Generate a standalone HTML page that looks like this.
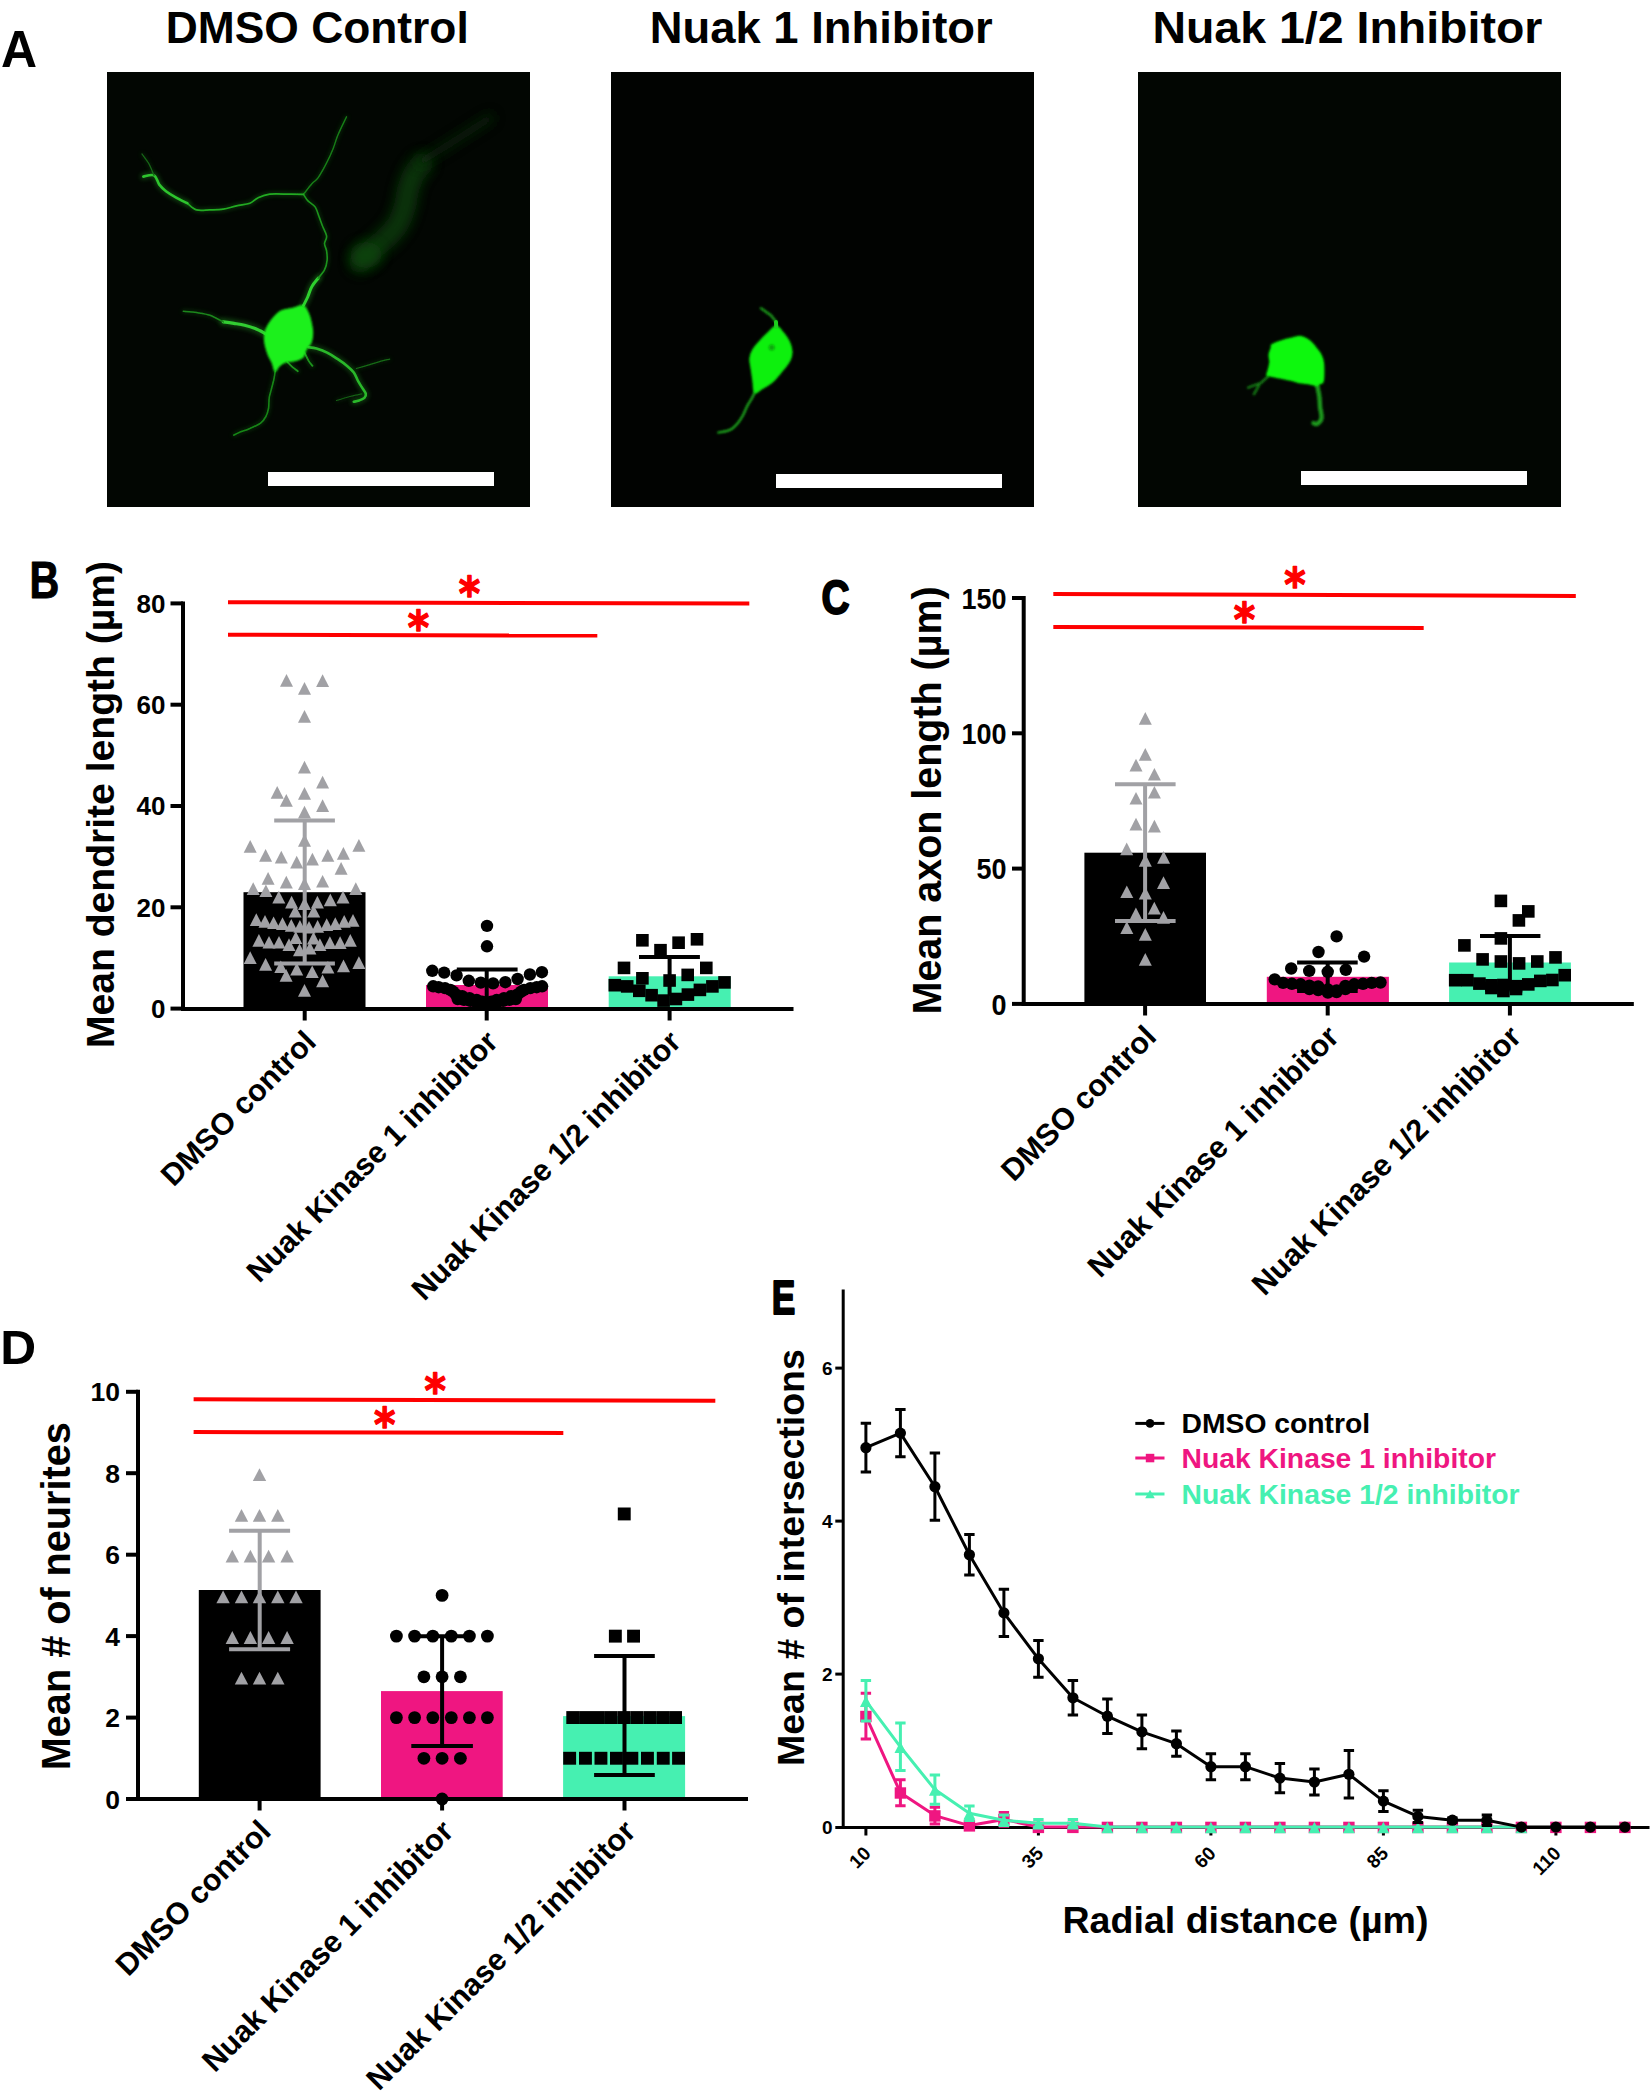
<!DOCTYPE html><html><head><meta charset="utf-8"><title>Figure</title>
<style>html,body{margin:0;padding:0;background:#fff;}svg{display:block;}text{font-family:'Liberation Sans', Arial, sans-serif;}</style></head><body>
<svg width="1652" height="2099" viewBox="0 0 1652 2099">
<rect width="1652" height="2099" fill="#fff"/>
<defs>
<filter id="b05" filterUnits="userSpaceOnUse" x="0" y="0" width="1652" height="600"><feGaussianBlur stdDeviation="0.5"/></filter>
<filter id="b1" filterUnits="userSpaceOnUse" x="0" y="0" width="1652" height="600"><feGaussianBlur stdDeviation="0.9"/></filter>
<filter id="b2" filterUnits="userSpaceOnUse" x="0" y="0" width="1652" height="600"><feGaussianBlur stdDeviation="2"/></filter>
<filter id="b6" filterUnits="userSpaceOnUse" x="0" y="0" width="1652" height="600"><feGaussianBlur stdDeviation="6"/></filter>
</defs>
<text x="0" y="0" font-size="51.5" font-weight="bold" transform="translate(1.0 67.2) scale(0.97 1)">A</text>
<text x="317.3" y="42.5" font-size="44.7" text-anchor="middle" fill="#000" font-weight="bold" textLength="303" lengthAdjust="spacingAndGlyphs">DMSO Control</text>
<text x="821.2" y="42.5" font-size="44.7" text-anchor="middle" fill="#000" font-weight="bold" textLength="343" lengthAdjust="spacingAndGlyphs">Nuak 1 Inhibitor</text>
<text x="1347.4" y="42.5" font-size="44.7" text-anchor="middle" fill="#000" font-weight="bold" textLength="390" lengthAdjust="spacingAndGlyphs">Nuak 1/2 Inhibitor</text>
<rect x="107" y="72" width="423" height="435" fill="#020602"/>
<path d="M360.0 262.0C362.0 260.0 367.7 254.0 372.0 250.0C376.3 246.0 381.7 242.3 386.0 238.0C390.3 233.7 394.8 229.3 398.0 224.0C401.2 218.7 403.3 211.7 405.0 206.0C406.7 200.3 406.5 195.3 408.0 190.0C409.5 184.7 411.7 178.3 414.0 174.0C416.3 169.7 420.7 165.7 422.0 164.0" stroke="#0b420b" stroke-width="22" stroke-linecap="round" stroke-linejoin="round" fill="none" filter="url(#b6)" opacity="0.75"/>
<ellipse cx="366" cy="255" rx="16" ry="13" fill="#0c480c" filter="url(#b6)" opacity="0.7"/>
<path d="M420.0 162.0C423.3 160.0 433.0 154.3 440.0 150.0C447.0 145.7 453.7 141.3 462.0 136.0C470.3 130.7 485.3 121.0 490.0 118.0" stroke="#072807" stroke-width="9" stroke-linecap="round" fill="none" filter="url(#b6)" opacity="0.8"/>
<g fill="none" stroke-linecap="round" stroke-linejoin="round">
<path d="M303.5 305.4C304.2 304.0 306.3 300.1 307.7 297.0C309.1 293.9 310.1 289.6 311.9 286.5C313.6 283.4 317.1 279.6 318.2 278.2" stroke="#2fd02f" stroke-width="7.2" opacity="0.28" filter="url(#b2)"/>
<path d="M318.2 278.2C319.2 276.8 323.0 272.8 324.5 269.8C326.0 266.8 326.8 263.4 327.1 260.3C327.5 257.2 327.0 253.7 326.6 250.9C326.2 248.1 324.5 246.1 324.5 243.6C324.5 241.1 327.0 239.2 326.6 236.2C326.2 233.2 323.6 228.9 322.4 225.8C321.2 222.7 320.5 220.6 319.3 217.4C318.1 214.2 317.0 209.7 315.1 206.9C313.2 204.1 309.6 202.7 307.7 200.6C305.8 198.5 304.2 195.4 303.5 194.3" stroke="#1c941c" stroke-width="3.8" opacity="0.28" filter="url(#b2)"/>
<path d="M303.5 194.3C304.9 192.6 309.4 186.6 311.9 183.8C314.3 181.0 315.8 181.1 318.2 177.6C320.6 174.1 324.2 167.6 326.6 162.9C329.1 158.2 331.0 154.0 332.9 149.3C334.8 144.6 335.8 140.0 338.1 134.6C340.4 129.2 345.1 119.8 346.5 116.8" stroke="#187e18" stroke-width="3.4" opacity="0.28" filter="url(#b2)"/>
<path d="M303.5 194.3C301.2 194.3 295.4 194.2 289.8 194.2C284.2 194.2 275.1 193.6 269.8 194.2C264.5 194.8 261.1 196.4 257.8 197.9C254.5 199.4 253.5 201.9 249.9 203.2C246.3 204.5 240.9 204.9 236.5 205.9C232.1 206.9 227.6 208.5 223.2 209.2C218.8 209.9 214.3 209.8 209.9 209.9C205.5 210.0 200.4 211.0 196.6 209.9C192.8 208.8 188.9 204.3 187.3 203.2" stroke="#22aa22" stroke-width="4.1" opacity="0.28" filter="url(#b2)"/>
<path d="M187.3 203.2C185.5 202.3 180.2 199.9 176.6 197.9C173.0 195.9 168.9 193.4 166.0 191.2C163.1 189.0 161.3 187.2 159.3 184.6C157.3 181.9 156.7 176.6 154.0 175.3C151.3 174.0 145.1 176.4 143.3 176.6" stroke="#2dc42d" stroke-width="6.2" opacity="0.28" filter="url(#b2)"/>
<path d="M154.0 175.3C153.1 173.3 150.6 166.9 148.6 163.3C146.6 159.8 143.1 155.6 142.0 154.0" stroke="#156815" stroke-width="3.1" opacity="0.28" filter="url(#b2)"/>
<path d="M265.9 333.9C264.1 333.0 258.8 330.0 255.2 328.6C251.6 327.2 248.1 326.2 244.6 325.3C241.1 324.4 237.4 323.9 233.9 323.3C230.4 322.7 225.1 322.1 223.3 321.9" stroke="#30cc30" stroke-width="7.7" opacity="0.28" filter="url(#b2)"/>
<path d="M223.3 321.9C221.1 320.8 214.4 316.9 210.0 315.3C205.6 313.8 201.0 313.3 196.6 312.6C192.2 311.9 185.5 311.5 183.3 311.3" stroke="#1a861a" stroke-width="3.6" opacity="0.28" filter="url(#b2)"/>
<path d="M308.5 347.2C309.8 347.4 313.4 347.7 316.5 348.6C319.6 349.5 323.6 350.8 327.1 352.6C330.7 354.4 334.5 357.0 337.8 359.2C341.1 361.4 344.4 363.7 347.1 365.9C349.8 368.1 352.0 370.1 353.8 372.5C355.6 374.9 356.5 378.1 357.8 380.5C359.1 382.9 360.5 385.0 361.8 387.2C363.1 389.4 365.4 392.1 365.8 393.9C366.2 395.7 365.5 396.7 364.4 397.8C363.3 398.9 360.9 399.8 359.1 400.5C357.3 401.2 354.7 401.6 353.8 401.8" stroke="#2ab82a" stroke-width="6.2" opacity="0.28" filter="url(#b2)"/>
<path d="M356.4 368.5C358.6 367.9 365.4 365.9 369.8 364.6C374.2 363.3 379.8 361.5 383.1 360.6C386.4 359.7 388.6 359.4 389.7 359.2" stroke="#156a15" stroke-width="2.9" opacity="0.28" filter="url(#b2)"/>
<path d="M361.8 393.9C359.8 394.3 354.0 395.4 349.8 396.5C345.6 397.6 338.7 399.8 336.5 400.5" stroke="#145e14" stroke-width="2.9" opacity="0.28" filter="url(#b2)"/>
<path d="M275.2 371.2C275.0 372.5 274.6 376.1 273.9 379.2C273.2 382.3 272.0 386.8 271.2 389.9C270.4 393.0 269.6 394.7 269.2 397.8C268.8 400.9 269.1 405.4 268.5 408.5C267.9 411.6 267.2 414.1 265.9 416.5C264.6 418.9 263.3 421.1 260.6 423.1C257.9 425.1 253.5 426.8 249.9 428.4C246.3 430.0 241.9 431.4 239.2 432.5C236.5 433.6 234.8 434.7 233.9 435.1" stroke="#178517" stroke-width="3.8" opacity="0.28" filter="url(#b2)"/>
<path d="M287.2 361.9C288.1 362.8 290.7 365.6 292.5 367.2C294.3 368.8 296.9 370.5 297.8 371.2" stroke="#1c941c" stroke-width="4.3" opacity="0.28" filter="url(#b2)"/>
<path d="M304.5 352.6C305.2 353.9 307.2 358.4 308.5 360.6C309.8 362.8 311.8 365.0 312.5 365.9" stroke="#1c941c" stroke-width="4.3" opacity="0.28" filter="url(#b2)"/>
<path d="M303.5 305.4C304.2 304.0 306.3 300.1 307.7 297.0C309.1 293.9 310.1 289.6 311.9 286.5C313.6 283.4 317.1 279.6 318.2 278.2" stroke="#2fd02f" stroke-width="3.0" filter="url(#b05)"/>
<path d="M318.2 278.2C319.2 276.8 323.0 272.8 324.5 269.8C326.0 266.8 326.8 263.4 327.1 260.3C327.5 257.2 327.0 253.7 326.6 250.9C326.2 248.1 324.5 246.1 324.5 243.6C324.5 241.1 327.0 239.2 326.6 236.2C326.2 233.2 323.6 228.9 322.4 225.8C321.2 222.7 320.5 220.6 319.3 217.4C318.1 214.2 317.0 209.7 315.1 206.9C313.2 204.1 309.6 202.7 307.7 200.6C305.8 198.5 304.2 195.4 303.5 194.3" stroke="#1c941c" stroke-width="1.6" filter="url(#b05)"/>
<path d="M303.5 194.3C304.9 192.6 309.4 186.6 311.9 183.8C314.3 181.0 315.8 181.1 318.2 177.6C320.6 174.1 324.2 167.6 326.6 162.9C329.1 158.2 331.0 154.0 332.9 149.3C334.8 144.6 335.8 140.0 338.1 134.6C340.4 129.2 345.1 119.8 346.5 116.8" stroke="#187e18" stroke-width="1.4" filter="url(#b05)"/>
<path d="M303.5 194.3C301.2 194.3 295.4 194.2 289.8 194.2C284.2 194.2 275.1 193.6 269.8 194.2C264.5 194.8 261.1 196.4 257.8 197.9C254.5 199.4 253.5 201.9 249.9 203.2C246.3 204.5 240.9 204.9 236.5 205.9C232.1 206.9 227.6 208.5 223.2 209.2C218.8 209.9 214.3 209.8 209.9 209.9C205.5 210.0 200.4 211.0 196.6 209.9C192.8 208.8 188.9 204.3 187.3 203.2" stroke="#22aa22" stroke-width="1.7" filter="url(#b05)"/>
<path d="M187.3 203.2C185.5 202.3 180.2 199.9 176.6 197.9C173.0 195.9 168.9 193.4 166.0 191.2C163.1 189.0 161.3 187.2 159.3 184.6C157.3 181.9 156.7 176.6 154.0 175.3C151.3 174.0 145.1 176.4 143.3 176.6" stroke="#2dc42d" stroke-width="2.6" filter="url(#b05)"/>
<path d="M154.0 175.3C153.1 173.3 150.6 166.9 148.6 163.3C146.6 159.8 143.1 155.6 142.0 154.0" stroke="#156815" stroke-width="1.3" filter="url(#b05)"/>
<path d="M265.9 333.9C264.1 333.0 258.8 330.0 255.2 328.6C251.6 327.2 248.1 326.2 244.6 325.3C241.1 324.4 237.4 323.9 233.9 323.3C230.4 322.7 225.1 322.1 223.3 321.9" stroke="#30cc30" stroke-width="3.2" filter="url(#b05)"/>
<path d="M223.3 321.9C221.1 320.8 214.4 316.9 210.0 315.3C205.6 313.8 201.0 313.3 196.6 312.6C192.2 311.9 185.5 311.5 183.3 311.3" stroke="#1a861a" stroke-width="1.5" filter="url(#b05)"/>
<path d="M308.5 347.2C309.8 347.4 313.4 347.7 316.5 348.6C319.6 349.5 323.6 350.8 327.1 352.6C330.7 354.4 334.5 357.0 337.8 359.2C341.1 361.4 344.4 363.7 347.1 365.9C349.8 368.1 352.0 370.1 353.8 372.5C355.6 374.9 356.5 378.1 357.8 380.5C359.1 382.9 360.5 385.0 361.8 387.2C363.1 389.4 365.4 392.1 365.8 393.9C366.2 395.7 365.5 396.7 364.4 397.8C363.3 398.9 360.9 399.8 359.1 400.5C357.3 401.2 354.7 401.6 353.8 401.8" stroke="#2ab82a" stroke-width="2.6" filter="url(#b05)"/>
<path d="M356.4 368.5C358.6 367.9 365.4 365.9 369.8 364.6C374.2 363.3 379.8 361.5 383.1 360.6C386.4 359.7 388.6 359.4 389.7 359.2" stroke="#156a15" stroke-width="1.2" filter="url(#b05)"/>
<path d="M361.8 393.9C359.8 394.3 354.0 395.4 349.8 396.5C345.6 397.6 338.7 399.8 336.5 400.5" stroke="#145e14" stroke-width="1.2" filter="url(#b05)"/>
<path d="M275.2 371.2C275.0 372.5 274.6 376.1 273.9 379.2C273.2 382.3 272.0 386.8 271.2 389.9C270.4 393.0 269.6 394.7 269.2 397.8C268.8 400.9 269.1 405.4 268.5 408.5C267.9 411.6 267.2 414.1 265.9 416.5C264.6 418.9 263.3 421.1 260.6 423.1C257.9 425.1 253.5 426.8 249.9 428.4C246.3 430.0 241.9 431.4 239.2 432.5C236.5 433.6 234.8 434.7 233.9 435.1" stroke="#178517" stroke-width="1.6" filter="url(#b05)"/>
<path d="M287.2 361.9C288.1 362.8 290.7 365.6 292.5 367.2C294.3 368.8 296.9 370.5 297.8 371.2" stroke="#1c941c" stroke-width="1.8" filter="url(#b05)"/>
<path d="M304.5 352.6C305.2 353.9 307.2 358.4 308.5 360.6C309.8 362.8 311.8 365.0 312.5 365.9" stroke="#1c941c" stroke-width="1.8" filter="url(#b05)"/>
</g>
<path d="M271.2 320.6C273.6 317.5 276.9 313.3 280.5 311.3C284.1 309.3 288.7 309.5 292.5 308.6C296.3 307.7 300.5 305.1 303.2 306.0C305.9 306.9 307.2 311.0 308.5 313.9C309.8 316.8 310.5 320.2 311.2 323.3C311.9 326.4 312.5 329.5 312.5 332.6C312.5 335.7 312.3 339.0 311.2 341.9C310.1 344.8 307.1 347.4 305.8 349.9C304.5 352.3 305.0 354.8 303.2 356.6C301.4 358.4 298.1 359.7 295.2 360.6C292.3 361.5 288.6 361.0 285.9 361.9C283.2 362.8 281.0 364.3 279.2 365.9C277.4 367.4 276.3 371.6 275.2 371.2C274.1 370.8 273.6 365.9 272.5 363.2C271.4 360.5 269.6 357.9 268.5 355.2C267.4 352.5 266.5 349.9 265.9 347.2C265.2 344.5 264.6 342.1 264.6 339.2C264.6 336.3 264.8 333.0 265.9 329.9C267.0 326.8 268.8 323.7 271.2 320.6Z" fill="#1cf01c" stroke="#1cf01c" stroke-width="1.5" stroke-linejoin="round" filter="url(#b1)"/>
<rect x="268" y="472" width="226" height="14" fill="#fff"/>
<rect x="611" y="72" width="423" height="435" fill="#010301"/>
<g fill="none" stroke-linecap="round" stroke-linejoin="round">
<path d="M761 308.3 L766.3 312.1 L770.9 315.2 L776.2 322" stroke="#1a9a1a" stroke-width="2.5" filter="url(#b1)"/>
<path d="M754.9 392.2C754.4 393.2 753.1 396.0 751.8 398.3C750.5 400.6 748.8 403.0 747.3 405.9C745.8 408.8 744.2 413.0 742.7 415.8C741.2 418.6 739.9 420.5 738.1 422.7C736.3 424.9 733.9 427.4 732.0 428.8C730.1 430.2 729.0 430.4 726.7 431.0C724.4 431.6 719.7 432.3 718.3 432.6" stroke="#1ca51c" stroke-width="2.4" filter="url(#b1)"/>
<path d="M776.2 326.6C778.6 326.7 780.9 330.4 783.0 333.0C785.1 335.6 787.6 339.0 789.0 342.0C790.4 345.0 791.2 348.3 791.5 351.0C791.8 353.7 791.1 355.9 790.5 358.0C789.9 360.1 789.5 360.9 787.7 363.4C786.0 365.9 782.5 370.0 780.0 373.0C777.5 376.0 775.6 378.8 772.4 381.5C769.2 384.2 763.9 387.2 761.0 389.0C758.1 390.8 756.2 393.4 754.9 392.2C753.6 390.9 753.9 385.2 753.4 381.5C752.9 377.8 752.3 373.8 751.8 370.0C751.3 366.2 750.0 362.0 750.3 358.6C750.6 355.2 751.6 352.6 753.4 349.5C755.2 346.4 758.5 343.1 761.0 340.3C763.5 337.5 766.1 335.0 768.6 332.7C771.1 330.4 773.8 326.6 776.2 326.6Z" fill="#10f010" stroke="#10f010" stroke-width="2" filter="url(#b1)"/>
<circle cx="771.7" cy="347.5" r="3" fill="#0aa80a" filter="url(#b1)"/>
<path d="M776 322 L776.2 327" stroke="#1ed01e" stroke-width="4"/>
</g>
<rect x="776" y="474" width="226" height="14" fill="#fff"/>
<rect x="1138" y="72" width="423" height="435" fill="#020602"/>
<g fill="none" stroke-linecap="round" stroke-linejoin="round">
<path d="M1317.2 385.4C1317.5 387.2 1318.8 392.7 1319.3 396.3C1319.8 399.9 1319.7 403.6 1320.1 407.2C1320.5 410.8 1322.0 415.3 1321.5 418.1C1321.0 420.9 1318.5 423.1 1317.2 423.9C1315.9 424.7 1314.1 423.2 1313.5 423.1" stroke="#1a961a" stroke-width="4.5" filter="url(#b1)"/>
<path d="M1267.8 376.7 L1260.5 383.2 L1254 385.4 L1248.2 387.6 M1259 385.4 L1254 394.1" stroke="#157a15" stroke-width="2.5" filter="url(#b1)"/>
<path d="M1272.1 344.7C1273.7 343.6 1277.5 342.2 1280.8 341.1C1284.1 340.0 1288.3 338.9 1291.7 338.2C1295.1 337.5 1298.2 336.2 1301.2 336.7C1304.2 337.2 1307.5 339.3 1309.9 341.1C1312.3 342.9 1314.0 345.6 1315.7 347.6C1317.4 349.7 1318.9 351.2 1320.1 353.4C1321.3 355.6 1322.4 357.8 1323.0 360.7C1323.6 363.6 1323.7 367.3 1323.7 370.8C1323.7 374.3 1323.7 379.5 1323.0 381.7C1322.3 383.9 1320.4 383.3 1319.3 383.9C1318.2 384.5 1318.0 385.4 1316.4 385.4C1314.8 385.4 1312.8 384.4 1309.9 383.9C1307.0 383.4 1302.0 383.1 1299.0 382.5C1296.0 381.9 1294.7 381.0 1291.7 380.3C1288.7 379.6 1284.3 378.8 1280.8 378.1C1277.3 377.4 1273.0 376.4 1270.7 375.9C1268.4 375.4 1267.4 376.3 1267.0 375.2C1266.6 374.1 1268.0 371.6 1268.5 369.4C1269.0 367.2 1269.9 364.5 1270.0 362.1C1270.1 359.7 1269.0 357.3 1269.2 354.9C1269.4 352.5 1270.9 349.3 1271.4 347.6C1271.9 345.9 1270.5 345.8 1272.1 344.7Z" fill="#08f808" stroke="#08f808" stroke-width="1.5" filter="url(#b1)"/>
</g>
<rect x="1301" y="471" width="226" height="14" fill="#fff"/>
<path d="M183.0 601.4V1011M181 1009H793.3" stroke="#000" stroke-width="4" fill="none"/>
<line x1="170.5" y1="1008.6" x2="183.0" y2="1008.6" stroke="#000" stroke-width="4" stroke-linecap="butt"/>
<text x="165.5" y="1017.9" font-size="26" text-anchor="end" fill="#000" font-weight="bold">0</text>
<line x1="170.5" y1="907.3" x2="183.0" y2="907.3" stroke="#000" stroke-width="4" stroke-linecap="butt"/>
<text x="165.5" y="916.6" font-size="26" text-anchor="end" fill="#000" font-weight="bold">20</text>
<line x1="170.5" y1="806.0" x2="183.0" y2="806.0" stroke="#000" stroke-width="4" stroke-linecap="butt"/>
<text x="165.5" y="815.3" font-size="26" text-anchor="end" fill="#000" font-weight="bold">40</text>
<line x1="170.5" y1="704.7" x2="183.0" y2="704.7" stroke="#000" stroke-width="4" stroke-linecap="butt"/>
<text x="165.5" y="714.0" font-size="26" text-anchor="end" fill="#000" font-weight="bold">60</text>
<line x1="170.5" y1="603.4" x2="183.0" y2="603.4" stroke="#000" stroke-width="4" stroke-linecap="butt"/>
<text x="165.5" y="612.7" font-size="26" text-anchor="end" fill="#000" font-weight="bold">80</text>
<line x1="304.7" y1="1009.0" x2="304.7" y2="1020.5" stroke="#000" stroke-width="4" stroke-linecap="butt"/>
<line x1="486.7" y1="1009.0" x2="486.7" y2="1020.5" stroke="#000" stroke-width="4" stroke-linecap="butt"/>
<line x1="669.6" y1="1009.0" x2="669.6" y2="1020.5" stroke="#000" stroke-width="4" stroke-linecap="butt"/>
<text x="114.0" y="804.5" font-size="39.5" text-anchor="middle" font-weight="bold" transform="rotate(-90 114.0 804.5)" textLength="487" lengthAdjust="spacingAndGlyphs">Mean dendrite length (µm)</text>
<text x="0" y="0" font-size="50.9" font-weight="bold" stroke="#000" stroke-width="1" stroke-linejoin="round" transform="translate(29.6 597.6) scale(0.81 1)">B</text>
<rect x="243.5" y="892.2" width="122" height="116.8" fill="#000"/>
<rect x="426" y="985" width="122" height="24" fill="#ef1681"/>
<rect x="608.7" y="976.3" width="122" height="32.7" fill="#46f0b1"/>
<path d="M181 1009H793.3" stroke="#000" stroke-width="4"/>
<path d="M304.7 820.4V963.6M274.2 820.4H334.9M274.2 963.6H334.9" stroke="#a1a1a5" stroke-width="4" fill="none"/>
<path d="M280.0 686.8L293.0 686.8L286.5 674.1Z" fill="#a1a1a5"/>
<path d="M298.0 694.8L311.0 694.8L304.5 682.1Z" fill="#a1a1a5"/>
<path d="M316.1 687.0L329.1 687.0L322.6 674.3Z" fill="#a1a1a5"/>
<path d="M298.0 722.7L311.0 722.7L304.5 710.0Z" fill="#a1a1a5"/>
<path d="M298.0 773.5L311.0 773.5L304.5 760.8Z" fill="#a1a1a5"/>
<path d="M316.1 788.5L329.1 788.5L322.6 775.8Z" fill="#a1a1a5"/>
<path d="M270.7 798.8L283.7 798.8L277.2 786.1Z" fill="#a1a1a5"/>
<path d="M298.0 799.7L311.0 799.7L304.5 787.0Z" fill="#a1a1a5"/>
<path d="M279.8 806.7L292.8 806.7L286.3 794.0Z" fill="#a1a1a5"/>
<path d="M316.1 812.0L329.1 812.0L322.6 799.3Z" fill="#a1a1a5"/>
<path d="M298.0 818.4L311.0 818.4L304.5 805.7Z" fill="#a1a1a5"/>
<path d="M243.7 852.7L256.7 852.7L250.2 840.0Z" fill="#a1a1a5"/>
<path d="M298.0 846.8L311.0 846.8L304.5 834.1Z" fill="#a1a1a5"/>
<path d="M352.4 851.7L365.4 851.7L358.9 839.0Z" fill="#a1a1a5"/>
<path d="M259.1 861.7L272.1 861.7L265.6 849.0Z" fill="#a1a1a5"/>
<path d="M274.8 863.4L287.8 863.4L281.3 850.7Z" fill="#a1a1a5"/>
<path d="M290.2 868.5L303.2 868.5L296.7 855.8Z" fill="#a1a1a5"/>
<path d="M305.9 865.4L318.9 865.4L312.4 852.7Z" fill="#a1a1a5"/>
<path d="M321.3 861.7L334.3 861.7L327.8 849.0Z" fill="#a1a1a5"/>
<path d="M336.9 859.7L349.9 859.7L343.4 847.0Z" fill="#a1a1a5"/>
<path d="M334.6 874.7L347.6 874.7L341.1 862.0Z" fill="#a1a1a5"/>
<path d="M261.6 884.7L274.6 884.7L268.1 872.0Z" fill="#a1a1a5"/>
<path d="M279.8 888.5L292.8 888.5L286.3 875.8Z" fill="#a1a1a5"/>
<path d="M298.0 889.9L311.0 889.9L304.5 877.2Z" fill="#a1a1a5"/>
<path d="M316.1 887.6L329.1 887.6L322.6 874.9Z" fill="#a1a1a5"/>
<path d="M246.7 894.9L259.7 894.9L253.2 882.2Z" fill="#a1a1a5"/>
<path d="M259.4 897.1L272.4 897.1L265.9 884.4Z" fill="#a1a1a5"/>
<path d="M349.3 894.9L362.3 894.9L355.8 882.2Z" fill="#a1a1a5"/>
<path d="M272.3 903.5L285.3 903.5L278.8 890.8Z" fill="#a1a1a5"/>
<path d="M285.1 908.5L298.1 908.5L291.6 895.8Z" fill="#a1a1a5"/>
<path d="M298.0 909.9L311.0 909.9L304.5 897.2Z" fill="#a1a1a5"/>
<path d="M310.9 908.5L323.9 908.5L317.4 895.8Z" fill="#a1a1a5"/>
<path d="M323.8 906.2L336.8 906.2L330.3 893.5Z" fill="#a1a1a5"/>
<path d="M336.5 903.5L349.5 903.5L343.0 890.8Z" fill="#a1a1a5"/>
<path d="M288.7 917.6L301.7 917.6L295.2 904.9Z" fill="#a1a1a5"/>
<path d="M307.2 917.6L320.2 917.6L313.7 904.9Z" fill="#a1a1a5"/>
<path d="M249.8 925.9L262.8 925.9L256.3 913.2Z" fill="#a1a1a5"/>
<path d="M258.5 927.7L271.5 927.7L265.0 915.0Z" fill="#a1a1a5"/>
<path d="M267.1 929.1L280.1 929.1L273.6 916.4Z" fill="#a1a1a5"/>
<path d="M276.0 930.0L289.0 930.0L282.5 917.3Z" fill="#a1a1a5"/>
<path d="M284.8 931.8L297.8 931.8L291.3 919.1Z" fill="#a1a1a5"/>
<path d="M293.4 932.7L306.4 932.7L299.9 920.0Z" fill="#a1a1a5"/>
<path d="M302.5 933.6L315.5 933.6L309.0 920.9Z" fill="#a1a1a5"/>
<path d="M311.1 932.7L324.1 932.7L317.6 920.0Z" fill="#a1a1a5"/>
<path d="M320.2 930.9L333.2 930.9L326.7 918.2Z" fill="#a1a1a5"/>
<path d="M328.8 930.0L341.8 930.0L335.3 917.3Z" fill="#a1a1a5"/>
<path d="M337.7 927.7L350.7 927.7L344.2 915.0Z" fill="#a1a1a5"/>
<path d="M346.5 926.8L359.5 926.8L353.0 914.1Z" fill="#a1a1a5"/>
<path d="M252.4 946.8L265.4 946.8L258.9 934.1Z" fill="#a1a1a5"/>
<path d="M262.5 948.6L275.5 948.6L269.0 935.9Z" fill="#a1a1a5"/>
<path d="M272.5 948.6L285.5 948.6L279.0 935.9Z" fill="#a1a1a5"/>
<path d="M282.5 950.9L295.5 950.9L289.0 938.2Z" fill="#a1a1a5"/>
<path d="M289.3 944.0L302.3 944.0L295.8 931.3Z" fill="#a1a1a5"/>
<path d="M307.0 944.5L320.0 944.5L313.5 931.8Z" fill="#a1a1a5"/>
<path d="M293.0 956.3L306.0 956.3L299.5 943.6Z" fill="#a1a1a5"/>
<path d="M303.4 954.5L316.4 954.5L309.9 941.8Z" fill="#a1a1a5"/>
<path d="M313.4 950.9L326.4 950.9L319.9 938.2Z" fill="#a1a1a5"/>
<path d="M323.4 949.0L336.4 949.0L329.9 936.3Z" fill="#a1a1a5"/>
<path d="M333.6 949.0L346.6 949.0L340.1 936.3Z" fill="#a1a1a5"/>
<path d="M343.8 946.8L356.8 946.8L350.3 934.1Z" fill="#a1a1a5"/>
<path d="M243.7 964.0L256.7 964.0L250.2 951.3Z" fill="#a1a1a5"/>
<path d="M259.1 970.8L272.1 970.8L265.6 958.1Z" fill="#a1a1a5"/>
<path d="M274.3 973.1L287.3 973.1L280.8 960.4Z" fill="#a1a1a5"/>
<path d="M290.2 975.4L303.2 975.4L296.7 962.7Z" fill="#a1a1a5"/>
<path d="M305.7 978.1L318.7 978.1L312.2 965.4Z" fill="#a1a1a5"/>
<path d="M321.4 973.6L334.4 973.6L327.9 960.9Z" fill="#a1a1a5"/>
<path d="M337.0 972.2L350.0 972.2L343.5 959.5Z" fill="#a1a1a5"/>
<path d="M352.4 969.0L365.4 969.0L358.9 956.3Z" fill="#a1a1a5"/>
<path d="M279.6 981.7L292.6 981.7L286.1 969.0Z" fill="#a1a1a5"/>
<path d="M316.1 987.2L329.1 987.2L322.6 974.5Z" fill="#a1a1a5"/>
<path d="M298.0 996.7L311.0 996.7L304.5 984.0Z" fill="#a1a1a5"/>
<path d="M486.7 969.5V1002M456.8 969.5H517.6" stroke="#000" stroke-width="4" fill="none"/>
<circle cx="433.2" cy="986.3" r="6.2" fill="#000"/>
<circle cx="438.6" cy="987.2" r="6.2" fill="#000"/>
<circle cx="445.0" cy="988.1" r="6.2" fill="#000"/>
<circle cx="450.4" cy="989.9" r="6.2" fill="#000"/>
<circle cx="455.9" cy="994.4" r="6.2" fill="#000"/>
<circle cx="462.2" cy="996.2" r="6.2" fill="#000"/>
<circle cx="469.5" cy="998.1" r="6.2" fill="#000"/>
<circle cx="476.7" cy="999.9" r="6.2" fill="#000"/>
<circle cx="482.2" cy="1001.7" r="6.2" fill="#000"/>
<circle cx="486.7" cy="1002.6" r="6.2" fill="#000"/>
<circle cx="491.3" cy="1001.7" r="6.2" fill="#000"/>
<circle cx="496.7" cy="999.9" r="6.2" fill="#000"/>
<circle cx="504.0" cy="998.1" r="6.2" fill="#000"/>
<circle cx="511.2" cy="996.2" r="6.2" fill="#000"/>
<circle cx="517.6" cy="994.4" r="6.2" fill="#000"/>
<circle cx="524.0" cy="989.9" r="6.2" fill="#000"/>
<circle cx="530.3" cy="988.1" r="6.2" fill="#000"/>
<circle cx="536.7" cy="987.2" r="6.2" fill="#000"/>
<circle cx="542.1" cy="986.3" r="6.2" fill="#000"/>
<circle cx="457.7" cy="999.0" r="6.2" fill="#000"/>
<circle cx="464.0" cy="999.9" r="6.2" fill="#000"/>
<circle cx="470.4" cy="1000.8" r="6.2" fill="#000"/>
<circle cx="476.7" cy="1002.6" r="6.2" fill="#000"/>
<circle cx="486.7" cy="1004.4" r="6.2" fill="#000"/>
<circle cx="496.7" cy="1002.6" r="6.2" fill="#000"/>
<circle cx="503.1" cy="1000.8" r="6.2" fill="#000"/>
<circle cx="509.4" cy="999.9" r="6.2" fill="#000"/>
<circle cx="515.8" cy="999.0" r="6.2" fill="#000"/>
<circle cx="453.1" cy="991.7" r="6.2" fill="#000"/>
<circle cx="521.2" cy="991.7" r="6.2" fill="#000"/>
<circle cx="432.3" cy="970.8" r="6.2" fill="#000"/>
<circle cx="444.2" cy="972.6" r="6.2" fill="#000"/>
<circle cx="456.6" cy="975.4" r="6.2" fill="#000"/>
<circle cx="468.8" cy="980.8" r="6.2" fill="#000"/>
<circle cx="480.8" cy="982.6" r="6.2" fill="#000"/>
<circle cx="493.1" cy="983.4" r="6.2" fill="#000"/>
<circle cx="505.3" cy="982.2" r="6.2" fill="#000"/>
<circle cx="517.6" cy="979.0" r="6.2" fill="#000"/>
<circle cx="529.9" cy="974.5" r="6.2" fill="#000"/>
<circle cx="541.9" cy="972.2" r="6.2" fill="#000"/>
<circle cx="487.0" cy="925.9" r="6.2" fill="#000"/>
<circle cx="487.0" cy="946.3" r="6.2" fill="#000"/>
<path d="M669.6 956.9V996M639 956.9H699.9" stroke="#000" stroke-width="4" fill="none"/>
<rect x="636.1" y="934.0" width="12.6" height="12.6" fill="#000"/>
<rect x="654.2" y="943.9" width="12.6" height="12.6" fill="#000"/>
<rect x="672.3" y="936.4" width="12.6" height="12.6" fill="#000"/>
<rect x="690.7" y="933.0" width="12.6" height="12.6" fill="#000"/>
<rect x="617.7" y="961.6" width="12.6" height="12.6" fill="#000"/>
<rect x="636.1" y="972.0" width="12.6" height="12.6" fill="#000"/>
<rect x="663.3" y="974.2" width="12.6" height="12.6" fill="#000"/>
<rect x="681.4" y="968.6" width="12.6" height="12.6" fill="#000"/>
<rect x="700.0" y="961.6" width="12.6" height="12.6" fill="#000"/>
<rect x="718.2" y="976.1" width="12.6" height="12.6" fill="#000"/>
<rect x="608.5" y="978.9" width="12.6" height="12.6" fill="#000"/>
<rect x="620.9" y="980.1" width="12.6" height="12.6" fill="#000"/>
<rect x="633.0" y="984.5" width="12.6" height="12.6" fill="#000"/>
<rect x="645.3" y="988.9" width="12.6" height="12.6" fill="#000"/>
<rect x="657.3" y="994.3" width="12.6" height="12.6" fill="#000"/>
<rect x="669.6" y="992.7" width="12.6" height="12.6" fill="#000"/>
<rect x="681.6" y="988.3" width="12.6" height="12.6" fill="#000"/>
<rect x="693.6" y="983.6" width="12.6" height="12.6" fill="#000"/>
<rect x="706.1" y="980.1" width="12.6" height="12.6" fill="#000"/>
<path d="M228 602.2L749.3 603.6" stroke="#fe0000" stroke-width="4"/>
<path d="M228 634.8L597.3 635.6" stroke="#fe0000" stroke-width="4"/>
<text x="0" y="0" font-size="45.5" font-weight="bold" fill="#fe0000" stroke="#fe0000" stroke-width="1.3" stroke-linejoin="round" text-anchor="middle" style="font-family:'DejaVu Sans',sans-serif" transform="translate(469.4 609.9) scale(0.9 1)">*</text>
<text x="0" y="0" font-size="45.5" font-weight="bold" fill="#fe0000" stroke="#fe0000" stroke-width="1.3" stroke-linejoin="round" text-anchor="middle" style="font-family:'DejaVu Sans',sans-serif" transform="translate(418.4 643.8) scale(0.9 1)">*</text>
<text x="317.7" y="1043.6" font-size="30.6" text-anchor="end" font-weight="bold" transform="rotate(-45 317.7 1043.6)">DMSO control</text>
<text x="499.7" y="1043.6" font-size="30.6" text-anchor="end" font-weight="bold" transform="rotate(-45 499.7 1043.6)">Nuak Kinase 1 inhibitor</text>
<text x="682.6" y="1043.6" font-size="30.6" text-anchor="end" font-weight="bold" transform="rotate(-45 682.6 1043.6)">Nuak Kinase 1/2 inhibitor</text>
<path d="M1023.7 596.0V1006M1021.7 1004H1633.6" stroke="#000" stroke-width="4" fill="none"/>
<line x1="1012.0" y1="1003.9" x2="1023.7" y2="1003.9" stroke="#000" stroke-width="4" stroke-linecap="butt"/>
<text x="0" y="0" font-size="30" font-weight="bold" text-anchor="end" transform="translate(1006.5 1014.7) scale(0.9 1)">0</text>
<line x1="1012.0" y1="868.6" x2="1023.7" y2="868.6" stroke="#000" stroke-width="4" stroke-linecap="butt"/>
<text x="0" y="0" font-size="30" font-weight="bold" text-anchor="end" transform="translate(1006.5 879.4) scale(0.9 1)">50</text>
<line x1="1012.0" y1="733.3" x2="1023.7" y2="733.3" stroke="#000" stroke-width="4" stroke-linecap="butt"/>
<text x="0" y="0" font-size="30" font-weight="bold" text-anchor="end" transform="translate(1006.5 744.1) scale(0.9 1)">100</text>
<line x1="1012.0" y1="598.0" x2="1023.7" y2="598.0" stroke="#000" stroke-width="4" stroke-linecap="butt"/>
<text x="0" y="0" font-size="30" font-weight="bold" text-anchor="end" transform="translate(1006.5 608.8) scale(0.9 1)">150</text>
<line x1="1145.1" y1="1004.0" x2="1145.1" y2="1015.5" stroke="#000" stroke-width="4" stroke-linecap="butt"/>
<line x1="1327.7" y1="1004.0" x2="1327.7" y2="1015.5" stroke="#000" stroke-width="4" stroke-linecap="butt"/>
<line x1="1509.9" y1="1004.0" x2="1509.9" y2="1015.5" stroke="#000" stroke-width="4" stroke-linecap="butt"/>
<text x="940.6" y="800.4" font-size="41" text-anchor="middle" font-weight="bold" transform="rotate(-90 940.6 800.4)" textLength="428" lengthAdjust="spacingAndGlyphs">Mean axon length (µm)</text>
<text x="0" y="0" font-size="49" font-weight="bold" stroke="#000" stroke-width="2" stroke-linejoin="round" transform="translate(821.5 614.2) scale(0.795 1)">C</text>
<rect x="1084.4" y="852.7" width="121.6" height="151.3" fill="#000"/>
<rect x="1266.8" y="976.8" width="122.1" height="27.2" fill="#ef1681"/>
<rect x="1449.1" y="962.5" width="121.8" height="41.5" fill="#46f0b1"/>
<path d="M1021.7 1004H1633.6" stroke="#000" stroke-width="4"/>
<path d="M1145.1 784.2V921M1115 784.2H1175.6M1115 921H1175.6" stroke="#a1a1a5" stroke-width="4" fill="none"/>
<path d="M1138.8 724.7L1151.8 724.7L1145.3 712.0Z" fill="#a1a1a5"/>
<path d="M1138.8 760.7L1151.8 760.7L1145.3 748.0Z" fill="#a1a1a5"/>
<path d="M1129.5 771.4L1142.5 771.4L1136.0 758.7Z" fill="#a1a1a5"/>
<path d="M1147.9 780.6L1160.9 780.6L1154.4 767.9Z" fill="#a1a1a5"/>
<path d="M1129.5 804.6L1142.5 804.6L1136.0 791.9Z" fill="#a1a1a5"/>
<path d="M1147.9 798.6L1160.9 798.6L1154.4 785.9Z" fill="#a1a1a5"/>
<path d="M1129.5 830.5L1142.5 830.5L1136.0 817.8Z" fill="#a1a1a5"/>
<path d="M1147.9 832.5L1160.9 832.5L1154.4 819.8Z" fill="#a1a1a5"/>
<path d="M1120.2 855.2L1133.2 855.2L1126.7 842.5Z" fill="#a1a1a5"/>
<path d="M1157.1 863.8L1170.1 863.8L1163.6 851.1Z" fill="#a1a1a5"/>
<path d="M1138.8 866.7L1151.8 866.7L1145.3 854.0Z" fill="#a1a1a5"/>
<path d="M1157.0 889.0L1170.0 889.0L1163.5 876.3Z" fill="#a1a1a5"/>
<path d="M1120.3 898.1L1133.3 898.1L1126.8 885.4Z" fill="#a1a1a5"/>
<path d="M1138.8 899.6L1151.8 899.6L1145.3 886.9Z" fill="#a1a1a5"/>
<path d="M1147.8 914.4L1160.8 914.4L1154.3 901.7Z" fill="#a1a1a5"/>
<path d="M1129.4 920.3L1142.4 920.3L1135.9 907.6Z" fill="#a1a1a5"/>
<path d="M1157.0 923.7L1170.0 923.7L1163.5 911.0Z" fill="#a1a1a5"/>
<path d="M1120.3 933.9L1133.3 933.9L1126.8 921.2Z" fill="#a1a1a5"/>
<path d="M1138.8 940.7L1151.8 940.7L1145.3 928.0Z" fill="#a1a1a5"/>
<path d="M1138.8 965.7L1151.8 965.7L1145.3 953.0Z" fill="#a1a1a5"/>
<path d="M1327.7 962.5V991M1297.1 962.5H1357.7M1297.1 991H1357.7" stroke="#000" stroke-width="4" fill="none"/>
<circle cx="1336.6" cy="936.4" r="6.2" fill="#000"/>
<circle cx="1318.5" cy="952.0" r="6.2" fill="#000"/>
<circle cx="1364.1" cy="956.6" r="6.2" fill="#000"/>
<circle cx="1291.2" cy="968.5" r="6.2" fill="#000"/>
<circle cx="1309.2" cy="970.9" r="6.2" fill="#000"/>
<circle cx="1327.7" cy="971.8" r="6.2" fill="#000"/>
<circle cx="1345.8" cy="969.8" r="6.2" fill="#000"/>
<circle cx="1274.7" cy="979.4" r="6.2" fill="#000"/>
<circle cx="1283.1" cy="982.9" r="6.2" fill="#000"/>
<circle cx="1291.9" cy="983.8" r="6.2" fill="#000"/>
<circle cx="1300.6" cy="984.3" r="6.2" fill="#000"/>
<circle cx="1309.4" cy="985.6" r="6.2" fill="#000"/>
<circle cx="1318.2" cy="986.5" r="6.2" fill="#000"/>
<circle cx="1327.9" cy="989.5" r="6.2" fill="#000"/>
<circle cx="1336.6" cy="990.4" r="6.2" fill="#000"/>
<circle cx="1345.4" cy="986.0" r="6.2" fill="#000"/>
<circle cx="1354.2" cy="984.3" r="6.2" fill="#000"/>
<circle cx="1363.0" cy="983.8" r="6.2" fill="#000"/>
<circle cx="1371.7" cy="982.9" r="6.2" fill="#000"/>
<circle cx="1380.5" cy="982.5" r="6.2" fill="#000"/>
<circle cx="1318.2" cy="990.0" r="6.2" fill="#000"/>
<circle cx="1327.9" cy="992.5" r="6.2" fill="#000"/>
<circle cx="1336.6" cy="992.0" r="6.2" fill="#000"/>
<circle cx="1309.4" cy="989.0" r="6.2" fill="#000"/>
<circle cx="1345.4" cy="989.0" r="6.2" fill="#000"/>
<path d="M1509.9 936V990M1480 936H1540.4" stroke="#000" stroke-width="4" fill="none"/>
<rect x="1494.6" y="894.6" width="12.6" height="12.6" fill="#000"/>
<rect x="1522.0" y="905.1" width="12.6" height="12.6" fill="#000"/>
<rect x="1512.6" y="914.1" width="12.6" height="12.6" fill="#000"/>
<rect x="1494.6" y="932.1" width="12.6" height="12.6" fill="#000"/>
<rect x="1458.1" y="939.1" width="12.6" height="12.6" fill="#000"/>
<rect x="1476.3" y="953.1" width="12.6" height="12.6" fill="#000"/>
<rect x="1494.6" y="955.2" width="12.6" height="12.6" fill="#000"/>
<rect x="1512.8" y="957.1" width="12.6" height="12.6" fill="#000"/>
<rect x="1531.0" y="955.2" width="12.6" height="12.6" fill="#000"/>
<rect x="1549.2" y="951.1" width="12.6" height="12.6" fill="#000"/>
<rect x="1448.9" y="973.9" width="12.6" height="12.6" fill="#000"/>
<rect x="1461.0" y="973.9" width="12.6" height="12.6" fill="#000"/>
<rect x="1473.1" y="977.3" width="12.6" height="12.6" fill="#000"/>
<rect x="1485.1" y="979.0" width="12.6" height="12.6" fill="#000"/>
<rect x="1497.1" y="984.7" width="12.6" height="12.6" fill="#000"/>
<rect x="1509.7" y="979.9" width="12.6" height="12.6" fill="#000"/>
<rect x="1522.0" y="978.1" width="12.6" height="12.6" fill="#000"/>
<rect x="1534.0" y="974.6" width="12.6" height="12.6" fill="#000"/>
<rect x="1546.1" y="973.7" width="12.6" height="12.6" fill="#000"/>
<rect x="1558.4" y="968.9" width="12.6" height="12.6" fill="#000"/>
<rect x="1485.1" y="981.7" width="12.6" height="12.6" fill="#000"/>
<rect x="1509.7" y="982.7" width="12.6" height="12.6" fill="#000"/>
<rect x="1497.1" y="978.7" width="12.6" height="12.6" fill="#000"/>
<path d="M1053.3 594L1575.8 596" stroke="#fe0000" stroke-width="4"/>
<path d="M1053.3 627L1423.7 628" stroke="#fe0000" stroke-width="4"/>
<text x="0" y="0" font-size="45.5" font-weight="bold" fill="#fe0000" stroke="#fe0000" stroke-width="1.3" stroke-linejoin="round" text-anchor="middle" style="font-family:'DejaVu Sans',sans-serif" transform="translate(1295.0 600.9) scale(0.9 1)">*</text>
<text x="0" y="0" font-size="45.5" font-weight="bold" fill="#fe0000" stroke="#fe0000" stroke-width="1.3" stroke-linejoin="round" text-anchor="middle" style="font-family:'DejaVu Sans',sans-serif" transform="translate(1244.5 635.9) scale(0.9 1)">*</text>
<text x="1158.1" y="1038.6" font-size="30.6" text-anchor="end" font-weight="bold" transform="rotate(-45 1158.1 1038.6)">DMSO control</text>
<text x="1340.7" y="1038.6" font-size="30.6" text-anchor="end" font-weight="bold" transform="rotate(-45 1340.7 1038.6)">Nuak Kinase 1 inhibitor</text>
<text x="1522.9" y="1038.6" font-size="30.6" text-anchor="end" font-weight="bold" transform="rotate(-45 1522.9 1038.6)">Nuak Kinase 1/2 inhibitor</text>
<path d="M138.0 1389.8V1801M136 1799H748" stroke="#000" stroke-width="4" fill="none"/>
<line x1="126.0" y1="1799.0" x2="138.0" y2="1799.0" stroke="#000" stroke-width="4" stroke-linecap="butt"/>
<text x="120.0" y="1808.5" font-size="26.5" text-anchor="end" fill="#000" font-weight="bold">0</text>
<line x1="126.0" y1="1717.6" x2="138.0" y2="1717.6" stroke="#000" stroke-width="4" stroke-linecap="butt"/>
<text x="120.0" y="1727.1" font-size="26.5" text-anchor="end" fill="#000" font-weight="bold">2</text>
<line x1="126.0" y1="1636.1" x2="138.0" y2="1636.1" stroke="#000" stroke-width="4" stroke-linecap="butt"/>
<text x="120.0" y="1645.6" font-size="26.5" text-anchor="end" fill="#000" font-weight="bold">4</text>
<line x1="126.0" y1="1554.7" x2="138.0" y2="1554.7" stroke="#000" stroke-width="4" stroke-linecap="butt"/>
<text x="120.0" y="1564.2" font-size="26.5" text-anchor="end" fill="#000" font-weight="bold">6</text>
<line x1="126.0" y1="1473.2" x2="138.0" y2="1473.2" stroke="#000" stroke-width="4" stroke-linecap="butt"/>
<text x="120.0" y="1482.7" font-size="26.5" text-anchor="end" fill="#000" font-weight="bold">8</text>
<line x1="126.0" y1="1391.8" x2="138.0" y2="1391.8" stroke="#000" stroke-width="4" stroke-linecap="butt"/>
<text x="120.0" y="1401.3" font-size="26.5" text-anchor="end" fill="#000" font-weight="bold">10</text>
<line x1="259.6" y1="1799.0" x2="259.6" y2="1810.5" stroke="#000" stroke-width="4" stroke-linecap="butt"/>
<line x1="442.1" y1="1799.0" x2="442.1" y2="1810.5" stroke="#000" stroke-width="4" stroke-linecap="butt"/>
<line x1="624.5" y1="1799.0" x2="624.5" y2="1810.5" stroke="#000" stroke-width="4" stroke-linecap="butt"/>
<text x="70.2" y="1596.2" font-size="40.5" text-anchor="middle" font-weight="bold" transform="rotate(-90 70.2 1596.2)" textLength="348" lengthAdjust="spacingAndGlyphs">Mean # of neurites</text>
<text x="0" y="0" font-size="48.3" font-weight="bold" transform="translate(0.2 1364) scale(1.03 1)">D</text>
<rect x="198.8" y="1590" width="121.8" height="209" fill="#000"/>
<rect x="381" y="1691.1" width="121.7" height="107.9" fill="#ef1681"/>
<rect x="563.1" y="1716.1" width="122" height="82.9" fill="#46f0b1"/>
<path d="M136 1799H748" stroke="#000" stroke-width="4"/>
<path d="M259.7 1530.7V1649.2M229.1 1530.7H290.1M229.1 1649.2H290.1" stroke="#a1a1a5" stroke-width="4" fill="none"/>
<path d="M252.8 1481.0L266.2 1481.0L259.5 1468.2Z" fill="#a1a1a5"/>
<path d="M234.8 1521.8L248.2 1521.8L241.5 1509.0Z" fill="#a1a1a5"/>
<path d="M252.8 1521.8L266.2 1521.8L259.5 1509.0Z" fill="#a1a1a5"/>
<path d="M271.1 1521.8L284.5 1521.8L277.8 1509.0Z" fill="#a1a1a5"/>
<path d="M225.6 1562.5L239.0 1562.5L232.3 1549.7Z" fill="#a1a1a5"/>
<path d="M243.7 1562.5L257.1 1562.5L250.4 1549.7Z" fill="#a1a1a5"/>
<path d="M261.9 1562.5L275.3 1562.5L268.6 1549.7Z" fill="#a1a1a5"/>
<path d="M280.4 1562.5L293.8 1562.5L287.1 1549.7Z" fill="#a1a1a5"/>
<path d="M216.4 1603.2L229.8 1603.2L223.1 1590.4Z" fill="#a1a1a5"/>
<path d="M234.8 1603.2L248.2 1603.2L241.5 1590.4Z" fill="#a1a1a5"/>
<path d="M252.8 1603.2L266.2 1603.2L259.5 1590.4Z" fill="#a1a1a5"/>
<path d="M271.1 1603.2L284.5 1603.2L277.8 1590.4Z" fill="#a1a1a5"/>
<path d="M289.3 1603.2L302.7 1603.2L296.0 1590.4Z" fill="#a1a1a5"/>
<path d="M225.6 1643.9L239.0 1643.9L232.3 1631.1Z" fill="#a1a1a5"/>
<path d="M243.7 1643.9L257.1 1643.9L250.4 1631.1Z" fill="#a1a1a5"/>
<path d="M261.9 1643.9L275.3 1643.9L268.6 1631.1Z" fill="#a1a1a5"/>
<path d="M280.4 1643.9L293.8 1643.9L287.1 1631.1Z" fill="#a1a1a5"/>
<path d="M234.8 1684.6L248.2 1684.6L241.5 1671.8Z" fill="#a1a1a5"/>
<path d="M252.8 1684.6L266.2 1684.6L259.5 1671.8Z" fill="#a1a1a5"/>
<path d="M271.1 1684.6L284.5 1684.6L277.8 1671.8Z" fill="#a1a1a5"/>
<path d="M442.1 1636.3V1745.9M414.6 1636.3H469.4M411.3 1745.9H472.9" stroke="#000" stroke-width="4" fill="none"/>
<circle cx="442.1" cy="1595.4" r="6.4" fill="#000"/>
<circle cx="396.4" cy="1636.1" r="6.4" fill="#000"/>
<circle cx="414.6" cy="1636.1" r="6.4" fill="#000"/>
<circle cx="432.8" cy="1636.1" r="6.4" fill="#000"/>
<circle cx="451.3" cy="1636.1" r="6.4" fill="#000"/>
<circle cx="469.4" cy="1636.1" r="6.4" fill="#000"/>
<circle cx="487.4" cy="1636.1" r="6.4" fill="#000"/>
<circle cx="423.9" cy="1676.8" r="6.4" fill="#000"/>
<circle cx="442.1" cy="1676.8" r="6.4" fill="#000"/>
<circle cx="460.4" cy="1676.8" r="6.4" fill="#000"/>
<circle cx="396.4" cy="1717.6" r="6.4" fill="#000"/>
<circle cx="414.6" cy="1717.6" r="6.4" fill="#000"/>
<circle cx="432.8" cy="1717.6" r="6.4" fill="#000"/>
<circle cx="451.3" cy="1717.6" r="6.4" fill="#000"/>
<circle cx="469.4" cy="1717.6" r="6.4" fill="#000"/>
<circle cx="487.4" cy="1717.6" r="6.4" fill="#000"/>
<circle cx="423.9" cy="1758.3" r="6.4" fill="#000"/>
<circle cx="442.1" cy="1758.3" r="6.4" fill="#000"/>
<circle cx="460.4" cy="1758.3" r="6.4" fill="#000"/>
<circle cx="442.1" cy="1799.0" r="6.4" fill="#000"/>
<path d="M624.5 1655.9V1775.1M594.1 1655.9H654.8M594.1 1775.1H654.8" stroke="#000" stroke-width="4" fill="none"/>
<rect x="617.8" y="1507.5" width="12.9" height="12.9" fill="#000"/>
<rect x="608.9" y="1629.7" width="12.9" height="12.9" fill="#000"/>
<rect x="627.1" y="1629.7" width="12.9" height="12.9" fill="#000"/>
<rect x="566.3" y="1711.1" width="12.9" height="12.9" fill="#000"/>
<rect x="579.1" y="1711.1" width="12.9" height="12.9" fill="#000"/>
<rect x="592.0" y="1711.1" width="12.9" height="12.9" fill="#000"/>
<rect x="604.8" y="1711.1" width="12.9" height="12.9" fill="#000"/>
<rect x="617.7" y="1711.1" width="12.9" height="12.9" fill="#000"/>
<rect x="630.5" y="1711.1" width="12.9" height="12.9" fill="#000"/>
<rect x="643.4" y="1711.1" width="12.9" height="12.9" fill="#000"/>
<rect x="656.2" y="1711.1" width="12.9" height="12.9" fill="#000"/>
<rect x="669.1" y="1711.1" width="12.9" height="12.9" fill="#000"/>
<rect x="563.2" y="1751.8" width="12.9" height="12.9" fill="#000"/>
<rect x="579.0" y="1751.8" width="12.9" height="12.9" fill="#000"/>
<rect x="594.5" y="1751.8" width="12.9" height="12.9" fill="#000"/>
<rect x="610.0" y="1751.8" width="12.9" height="12.9" fill="#000"/>
<rect x="625.4" y="1751.8" width="12.9" height="12.9" fill="#000"/>
<rect x="641.0" y="1751.8" width="12.9" height="12.9" fill="#000"/>
<rect x="656.8" y="1751.8" width="12.9" height="12.9" fill="#000"/>
<rect x="672.1" y="1751.8" width="12.9" height="12.9" fill="#000"/>
<path d="M193.6 1399.3L715.3 1400.8" stroke="#fe0000" stroke-width="4"/>
<path d="M193.6 1432L563.3 1433" stroke="#fe0000" stroke-width="4"/>
<text x="0" y="0" font-size="45.5" font-weight="bold" fill="#fe0000" stroke="#fe0000" stroke-width="1.3" stroke-linejoin="round" text-anchor="middle" style="font-family:'DejaVu Sans',sans-serif" transform="translate(435.3 1406.9) scale(0.9 1)">*</text>
<text x="0" y="0" font-size="45.5" font-weight="bold" fill="#fe0000" stroke="#fe0000" stroke-width="1.3" stroke-linejoin="round" text-anchor="middle" style="font-family:'DejaVu Sans',sans-serif" transform="translate(384.8 1441.4) scale(0.9 1)">*</text>
<text x="272.6" y="1833.2" font-size="30.6" text-anchor="end" font-weight="bold" transform="rotate(-45 272.6 1833.2)">DMSO control</text>
<text x="455.1" y="1833.2" font-size="30.6" text-anchor="end" font-weight="bold" transform="rotate(-45 455.1 1833.2)">Nuak Kinase 1 inhibitor</text>
<text x="637.5" y="1833.2" font-size="30.6" text-anchor="end" font-weight="bold" transform="rotate(-45 637.5 1833.2)">Nuak Kinase 1/2 inhibitor</text>
<path d="M843.2 1289.6V1829M835.3 1827.5H1649.5" stroke="#000" stroke-width="3" fill="none"/>
<line x1="835.3" y1="1674.1" x2="843.2" y2="1674.1" stroke="#000" stroke-width="3" stroke-linecap="butt"/>
<line x1="835.3" y1="1521.1" x2="843.2" y2="1521.1" stroke="#000" stroke-width="3" stroke-linecap="butt"/>
<line x1="835.3" y1="1368.1" x2="843.2" y2="1368.1" stroke="#000" stroke-width="3" stroke-linecap="butt"/>
<text x="832.5" y="1833.9" font-size="19" text-anchor="end" fill="#000" font-weight="bold">0</text>
<text x="832.5" y="1680.9" font-size="19" text-anchor="end" fill="#000" font-weight="bold">2</text>
<text x="832.5" y="1527.9" font-size="19" text-anchor="end" fill="#000" font-weight="bold">4</text>
<text x="832.5" y="1374.9" font-size="19" text-anchor="end" fill="#000" font-weight="bold">6</text>
<line x1="865.9" y1="1827.5" x2="865.9" y2="1835.5" stroke="#000" stroke-width="3" stroke-linecap="butt"/>
<text x="871.9" y="1854.5" font-size="19" font-weight="bold" text-anchor="end" transform="rotate(-45 871.9 1854.5)">10</text>
<line x1="1038.4" y1="1827.5" x2="1038.4" y2="1835.5" stroke="#000" stroke-width="3" stroke-linecap="butt"/>
<text x="1044.4" y="1854.5" font-size="19" font-weight="bold" text-anchor="end" transform="rotate(-45 1044.4 1854.5)">35</text>
<line x1="1210.9" y1="1827.5" x2="1210.9" y2="1835.5" stroke="#000" stroke-width="3" stroke-linecap="butt"/>
<text x="1216.9" y="1854.5" font-size="19" font-weight="bold" text-anchor="end" transform="rotate(-45 1216.9 1854.5)">60</text>
<line x1="1383.4" y1="1827.5" x2="1383.4" y2="1835.5" stroke="#000" stroke-width="3" stroke-linecap="butt"/>
<text x="1389.4" y="1854.5" font-size="19" font-weight="bold" text-anchor="end" transform="rotate(-45 1389.4 1854.5)">85</text>
<line x1="1555.9" y1="1827.5" x2="1555.9" y2="1835.5" stroke="#000" stroke-width="3" stroke-linecap="butt"/>
<text x="1561.9" y="1854.5" font-size="19" font-weight="bold" text-anchor="end" transform="rotate(-45 1561.9 1854.5)">110</text>
<text x="803.6" y="1557.6" font-size="37.5" text-anchor="middle" font-weight="bold" transform="rotate(-90 803.6 1557.6)" textLength="417" lengthAdjust="spacingAndGlyphs">Mean # of intersections</text>
<text x="1245.5" y="1933" font-size="37.5" font-weight="bold" text-anchor="middle" textLength="366" lengthAdjust="spacingAndGlyphs">Radial distance (µm)</text>
<text x="0" y="0" font-size="48.8" font-weight="bold" stroke="#000" stroke-width="2" stroke-linejoin="round" transform="translate(771.65 1313.5) scale(0.724 1)">E</text>
<polyline points="865.9,1716.2 900.4,1792.7 934.9,1815.6 969.4,1825.6 1003.9,1819.4 1038.4,1827.1 1072.9,1827.1 1107.4,1827.1 1141.9,1827.1 1176.4,1827.1 1210.9,1827.1 1245.4,1827.1 1279.9,1827.1 1314.4,1827.1 1348.9,1827.1 1383.4,1827.1 1417.9,1827.1 1452.4,1827.1 1486.9,1827.1 1521.4,1827.1" fill="none" stroke="#ef1681" stroke-width="3" stroke-linejoin="round"/>
<path d="M865.9 1693.2V1739.1M860.7 1693.2H871.1M860.7 1739.1H871.1" stroke="#ef1681" stroke-width="3" fill="none"/>
<rect x="860.2" y="1710.8" width="11.4" height="11.4" fill="#ef1681"/>
<path d="M900.4 1779.7V1805.7M895.2 1779.7H905.6M895.2 1805.7H905.6" stroke="#ef1681" stroke-width="3" fill="none"/>
<rect x="894.7" y="1787.3" width="11.4" height="11.4" fill="#ef1681"/>
<path d="M934.9 1807.2V1824.0M929.7 1807.2H940.1M929.7 1824.0H940.1" stroke="#ef1681" stroke-width="3" fill="none"/>
<rect x="929.2" y="1810.2" width="11.4" height="11.4" fill="#ef1681"/>
<path d="M969.4 1824.0V1827.1M964.2 1824.0H974.6M964.2 1827.1H974.6" stroke="#ef1681" stroke-width="3" fill="none"/>
<rect x="963.7" y="1820.2" width="11.4" height="11.4" fill="#ef1681"/>
<path d="M1003.9 1812.6V1826.3M998.7 1812.6H1009.1M998.7 1826.3H1009.1" stroke="#ef1681" stroke-width="3" fill="none"/>
<rect x="998.2" y="1814.0" width="11.4" height="11.4" fill="#ef1681"/>
<rect x="1032.7" y="1821.7" width="11.4" height="11.4" fill="#ef1681"/>
<rect x="1067.2" y="1821.7" width="11.4" height="11.4" fill="#ef1681"/>
<rect x="1101.7" y="1821.7" width="11.4" height="11.4" fill="#ef1681"/>
<rect x="1136.2" y="1821.7" width="11.4" height="11.4" fill="#ef1681"/>
<rect x="1170.7" y="1821.7" width="11.4" height="11.4" fill="#ef1681"/>
<rect x="1205.2" y="1821.7" width="11.4" height="11.4" fill="#ef1681"/>
<rect x="1239.7" y="1821.7" width="11.4" height="11.4" fill="#ef1681"/>
<rect x="1274.2" y="1821.7" width="11.4" height="11.4" fill="#ef1681"/>
<rect x="1308.7" y="1821.7" width="11.4" height="11.4" fill="#ef1681"/>
<rect x="1343.2" y="1821.7" width="11.4" height="11.4" fill="#ef1681"/>
<rect x="1377.7" y="1821.7" width="11.4" height="11.4" fill="#ef1681"/>
<rect x="1412.2" y="1821.7" width="11.4" height="11.4" fill="#ef1681"/>
<rect x="1446.7" y="1821.7" width="11.4" height="11.4" fill="#ef1681"/>
<rect x="1481.2" y="1821.7" width="11.4" height="11.4" fill="#ef1681"/>
<rect x="1515.7" y="1821.7" width="11.4" height="11.4" fill="#ef1681"/>
<rect x="1550.2" y="1821.7" width="11.4" height="11.4" fill="#ef1681"/>
<rect x="1584.7" y="1821.7" width="11.4" height="11.4" fill="#ef1681"/>
<rect x="1619.2" y="1821.7" width="11.4" height="11.4" fill="#ef1681"/>
<polyline points="865.9,1700.9 900.4,1746.8 934.9,1789.6 969.4,1813.3 1003.9,1820.2 1038.4,1823.3 1072.9,1823.3 1107.4,1827.1 1141.9,1827.1 1176.4,1827.1 1210.9,1827.1 1245.4,1827.1 1279.9,1827.1 1314.4,1827.1 1348.9,1827.1 1383.4,1827.1 1417.9,1827.1 1452.4,1827.1 1486.9,1827.1 1521.4,1827.1" fill="none" stroke="#46f0b1" stroke-width="3" stroke-linejoin="round"/>
<path d="M865.9 1680.6V1721.1M860.7 1680.6H871.1M860.7 1721.1H871.1" stroke="#46f0b1" stroke-width="3" fill="none"/>
<path d="M860.0 1707.0L871.8 1707.0L865.9 1695.6Z" fill="#46f0b1"/>
<path d="M900.4 1723.1V1770.5M895.2 1723.1H905.6M895.2 1770.5H905.6" stroke="#46f0b1" stroke-width="3" fill="none"/>
<path d="M894.5 1752.9L906.3 1752.9L900.4 1741.5Z" fill="#46f0b1"/>
<path d="M934.9 1775.1V1804.2M929.7 1775.1H940.1M929.7 1804.2H940.1" stroke="#46f0b1" stroke-width="3" fill="none"/>
<path d="M929.0 1795.7L940.8 1795.7L934.9 1784.3Z" fill="#46f0b1"/>
<path d="M969.4 1806.1V1820.5M964.2 1806.1H974.6M964.2 1820.5H974.6" stroke="#46f0b1" stroke-width="3" fill="none"/>
<path d="M963.5 1819.4L975.3 1819.4L969.4 1808.0Z" fill="#46f0b1"/>
<path d="M1003.9 1814.9V1825.6M998.7 1814.9H1009.1M998.7 1825.6H1009.1" stroke="#46f0b1" stroke-width="3" fill="none"/>
<path d="M998.0 1826.3L1009.8 1826.3L1003.9 1814.9Z" fill="#46f0b1"/>
<path d="M1038.4 1819.4V1827.1M1033.2 1819.4H1043.6M1033.2 1827.1H1043.6" stroke="#46f0b1" stroke-width="3" fill="none"/>
<path d="M1032.5 1829.4L1044.3 1829.4L1038.4 1818.0Z" fill="#46f0b1"/>
<path d="M1072.9 1819.4V1827.1M1067.7 1819.4H1078.1M1067.7 1827.1H1078.1" stroke="#46f0b1" stroke-width="3" fill="none"/>
<path d="M1067.0 1829.4L1078.8 1829.4L1072.9 1818.0Z" fill="#46f0b1"/>
<path d="M1101.5 1833.2L1113.3 1833.2L1107.4 1821.8Z" fill="#46f0b1"/>
<path d="M1136.0 1833.2L1147.8 1833.2L1141.9 1821.8Z" fill="#46f0b1"/>
<path d="M1170.5 1833.2L1182.3 1833.2L1176.4 1821.8Z" fill="#46f0b1"/>
<path d="M1205.0 1833.2L1216.8 1833.2L1210.9 1821.8Z" fill="#46f0b1"/>
<path d="M1239.5 1833.2L1251.3 1833.2L1245.4 1821.8Z" fill="#46f0b1"/>
<path d="M1274.0 1833.2L1285.8 1833.2L1279.9 1821.8Z" fill="#46f0b1"/>
<path d="M1308.5 1833.2L1320.3 1833.2L1314.4 1821.8Z" fill="#46f0b1"/>
<path d="M1343.0 1833.2L1354.8 1833.2L1348.9 1821.8Z" fill="#46f0b1"/>
<path d="M1377.5 1833.2L1389.3 1833.2L1383.4 1821.8Z" fill="#46f0b1"/>
<path d="M1412.0 1833.2L1423.8 1833.2L1417.9 1821.8Z" fill="#46f0b1"/>
<path d="M1446.5 1833.2L1458.3 1833.2L1452.4 1821.8Z" fill="#46f0b1"/>
<path d="M1481.0 1833.2L1492.8 1833.2L1486.9 1821.8Z" fill="#46f0b1"/>
<path d="M1515.5 1833.2L1527.3 1833.2L1521.4 1821.8Z" fill="#46f0b1"/>
<polyline points="865.9,1447.7 900.4,1433.1 934.9,1486.7 969.4,1554.8 1003.9,1612.9 1038.4,1658.8 1072.9,1697.8 1107.4,1716.2 1141.9,1731.9 1176.4,1743.7 1210.9,1766.7 1245.4,1766.7 1279.9,1778.1 1314.4,1782.0 1348.9,1774.3 1383.4,1801.1 1417.9,1816.4 1452.4,1820.2 1486.9,1820.2 1521.4,1827.1 1555.9,1827.1 1590.4,1827.1 1624.9,1827.1" fill="none" stroke="#000" stroke-width="3" stroke-linejoin="round"/>
<path d="M865.9 1423.2V1472.1M860.7 1423.2H871.1M860.7 1472.1H871.1" stroke="#000" stroke-width="3" fill="none"/>
<circle cx="865.9" cy="1447.7" r="5.6" fill="#000"/>
<path d="M900.4 1409.4V1456.8M895.2 1409.4H905.6M895.2 1456.8H905.6" stroke="#000" stroke-width="3" fill="none"/>
<circle cx="900.4" cy="1433.1" r="5.6" fill="#000"/>
<path d="M934.9 1453.0V1520.3M929.7 1453.0H940.1M929.7 1520.3H940.1" stroke="#000" stroke-width="3" fill="none"/>
<circle cx="934.9" cy="1486.7" r="5.6" fill="#000"/>
<path d="M969.4 1534.5V1575.0M964.2 1534.5H974.6M964.2 1575.0H974.6" stroke="#000" stroke-width="3" fill="none"/>
<circle cx="969.4" cy="1554.8" r="5.6" fill="#000"/>
<path d="M1003.9 1589.2V1636.6M998.7 1589.2H1009.1M998.7 1636.6H1009.1" stroke="#000" stroke-width="3" fill="none"/>
<circle cx="1003.9" cy="1612.9" r="5.6" fill="#000"/>
<path d="M1038.4 1640.4V1677.2M1033.2 1640.4H1043.6M1033.2 1677.2H1043.6" stroke="#000" stroke-width="3" fill="none"/>
<circle cx="1038.4" cy="1658.8" r="5.6" fill="#000"/>
<path d="M1072.9 1680.6V1715.0M1067.7 1680.6H1078.1M1067.7 1715.0H1078.1" stroke="#000" stroke-width="3" fill="none"/>
<circle cx="1072.9" cy="1697.8" r="5.6" fill="#000"/>
<path d="M1107.4 1699.0V1733.4M1102.2 1699.0H1112.6M1102.2 1733.4H1112.6" stroke="#000" stroke-width="3" fill="none"/>
<circle cx="1107.4" cy="1716.2" r="5.6" fill="#000"/>
<path d="M1141.9 1715.0V1748.7M1136.7 1715.0H1147.1M1136.7 1748.7H1147.1" stroke="#000" stroke-width="3" fill="none"/>
<circle cx="1141.9" cy="1731.9" r="5.6" fill="#000"/>
<path d="M1176.4 1731.1V1756.3M1171.2 1731.1H1181.6M1171.2 1756.3H1181.6" stroke="#000" stroke-width="3" fill="none"/>
<circle cx="1176.4" cy="1743.7" r="5.6" fill="#000"/>
<path d="M1210.9 1753.7V1779.7M1205.7 1753.7H1216.1M1205.7 1779.7H1216.1" stroke="#000" stroke-width="3" fill="none"/>
<circle cx="1210.9" cy="1766.7" r="5.6" fill="#000"/>
<path d="M1245.4 1753.7V1779.7M1240.2 1753.7H1250.6M1240.2 1779.7H1250.6" stroke="#000" stroke-width="3" fill="none"/>
<circle cx="1245.4" cy="1766.7" r="5.6" fill="#000"/>
<path d="M1279.9 1763.6V1792.7M1274.7 1763.6H1285.1M1274.7 1792.7H1285.1" stroke="#000" stroke-width="3" fill="none"/>
<circle cx="1279.9" cy="1778.1" r="5.6" fill="#000"/>
<path d="M1314.4 1769.0V1795.0M1309.2 1769.0H1319.6M1309.2 1795.0H1319.6" stroke="#000" stroke-width="3" fill="none"/>
<circle cx="1314.4" cy="1782.0" r="5.6" fill="#000"/>
<path d="M1348.9 1750.6V1798.0M1343.7 1750.6H1354.1M1343.7 1798.0H1354.1" stroke="#000" stroke-width="3" fill="none"/>
<circle cx="1348.9" cy="1774.3" r="5.6" fill="#000"/>
<path d="M1383.4 1790.8V1811.4M1378.2 1790.8H1388.6M1378.2 1811.4H1388.6" stroke="#000" stroke-width="3" fill="none"/>
<circle cx="1383.4" cy="1801.1" r="5.6" fill="#000"/>
<path d="M1417.9 1810.3V1822.5M1412.7 1810.3H1423.1M1412.7 1822.5H1423.1" stroke="#000" stroke-width="3" fill="none"/>
<circle cx="1417.9" cy="1816.4" r="5.6" fill="#000"/>
<path d="M1452.4 1817.9V1822.5M1447.2 1817.9H1457.6M1447.2 1822.5H1457.6" stroke="#000" stroke-width="3" fill="none"/>
<circle cx="1452.4" cy="1820.2" r="5.6" fill="#000"/>
<path d="M1486.9 1814.9V1825.6M1481.7 1814.9H1492.1M1481.7 1825.6H1492.1" stroke="#000" stroke-width="3" fill="none"/>
<circle cx="1486.9" cy="1820.2" r="5.6" fill="#000"/>
<circle cx="1521.4" cy="1827.1" r="5.6" fill="#000"/>
<circle cx="1555.9" cy="1827.1" r="5.6" fill="#000"/>
<circle cx="1590.4" cy="1827.1" r="5.6" fill="#000"/>
<circle cx="1624.9" cy="1827.1" r="5.6" fill="#000"/>
<path d="M1135.3 1423.4H1164.5" stroke="#000" stroke-width="3"/>
<circle cx="1150.0" cy="1423.4" r="4.3" fill="#000"/>
<path d="M1135.3 1458H1164.5" stroke="#ef1681" stroke-width="3"/>
<rect x="1145.8" y="1453.8" width="8.5" height="8.5" fill="#ef1681"/>
<path d="M1135.3 1494H1164.5" stroke="#46f0b1" stroke-width="3"/>
<path d="M1145.2 1498.2L1154.8 1498.2L1150.0 1489.7Z" fill="#46f0b1"/>
<text x="1181.5" y="1433.0" font-size="28.3" text-anchor="start" fill="#000" font-weight="bold">DMSO control</text>
<text x="1181.5" y="1468.1" font-size="28.3" text-anchor="start" fill="#ef1681" font-weight="bold">Nuak Kinase 1 inhibitor</text>
<text x="1181.5" y="1504.2" font-size="28.3" text-anchor="start" fill="#46f0b1" font-weight="bold">Nuak Kinase 1/2 inhibitor</text>
</svg></body></html>
